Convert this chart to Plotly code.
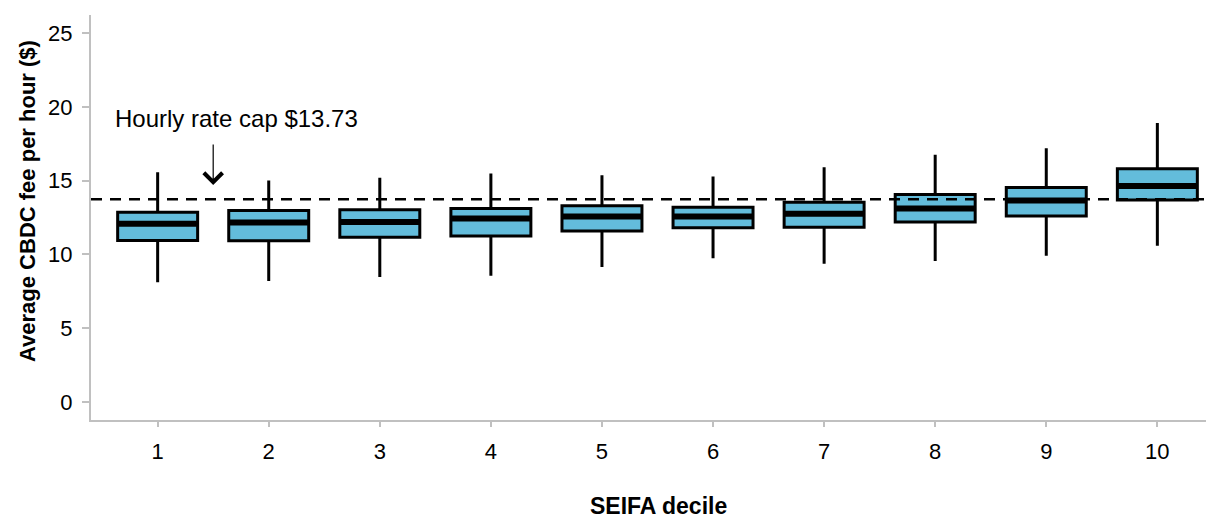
import plotly.graph_objects as go

deciles = [1, 2, 3, 4, 5, 6, 7, 8, 9, 10]
lower_whisker = [8.12, 8.20, 8.47, 8.56, 9.15, 9.74, 9.36, 9.56, 9.90, 10.58]
q1 = [10.94, 10.92, 11.16, 11.25, 11.59, 11.80, 11.84, 12.20, 12.61, 13.69]
median = [12.07, 12.16, 12.20, 12.43, 12.57, 12.57, 12.75, 13.11, 13.65, 14.64]
q3 = [12.86, 12.97, 13.02, 13.11, 13.29, 13.20, 13.54, 14.06, 14.53, 15.80]
upper_whisker = [15.57, 15.00, 15.19, 15.48, 15.37, 15.27, 15.91, 16.75, 17.20, 18.90]
rate_cap = 13.73
cap_label = "Hourly rate cap $13.73"
y_ticks = [0, 5, 10, 15, 20, 25]
x_title = "SEIFA decile"
y_title = "Average CBDC fee per hour ($)"

FONT = "Liberation Sans, Arial, sans-serif"
AXIS_GREY = "#c0c0c0"

# page has an 8px body margin: compensate so the plot lands where the reference has it
OFF = 8
W, H = 1214 - OFF, 517 - OFF
L, T, R = 91 - OFF, 15 - OFF, 0
B = H - (420 - OFF)
pw, ph = W - L - R, H - T - B


def px_to_paper(px, py):
    """page pixel -> paper fraction"""
    fx = (px - OFF - L) / pw
    fy = ((H - B) - (py - OFF)) / ph
    return fx, fy


fig = go.Figure()
fig.add_trace(go.Box(
    x=deciles,
    q1=q1, median=median, q3=q3,
    lowerfence=lower_whisker, upperfence=upper_whisker,
    width=0.72,
    fillcolor="#63bcdb",
    line=dict(color="black", width=3),
    whiskerwidth=0,
    boxpoints=False,
    showlegend=False,
    hoverinfo="skip",
))
# thicker median bars
fig.add_trace(go.Scatter(
    x=deciles, y=median, mode="markers",
    marker=dict(symbol="line-ew", size=56, line=dict(color="black", width=6)),
    showlegend=False, hoverinfo="skip",
))

fig.add_shape(type="line", xref="paper", x0=0, x1=1, yref="y", y0=rate_cap, y1=rate_cap,
              line=dict(color="black", width=2.5, dash="11px,8px"), layer="above")

fig.add_annotation(x=1.71, y=19.2, xref="x", yref="y", text=cap_label, showarrow=False,
                   font=dict(family=FONT, size=24, color="black"))
fig.add_annotation(x=1.5, y=14.7, xref="x", yref="y", text="", showarrow=True,
                   ax=0, ay=-42, arrowhead=4, arrowsize=3, arrowwidth=1.2, arrowcolor="black")

# axis titles
xt = px_to_paper(658, 506)
yt = px_to_paper(27, 201)
fig.add_annotation(x=xt[0], y=xt[1], xref="paper", yref="paper", text=f"<b>{x_title}</b>",
                   xanchor="center", yanchor="middle",
                   showarrow=False, font=dict(family=FONT, size=23, color="black"))
fig.add_annotation(x=yt[0], y=yt[1], xref="paper", yref="paper", text=f"<b>{y_title}</b>",
                   xanchor="center", yanchor="middle", textangle=-90,
                   showarrow=False, font=dict(family=FONT, size=22, color="black"))

fig.update_layout(
    width=W, height=H,
    margin=dict(l=L, r=R, t=T, b=B),
    paper_bgcolor="white", plot_bgcolor="white",
    font=dict(family=FONT, size=22, color="black"),
)

fig.update_xaxes(
    range=[0.4, 10.51], tickvals=deciles, ticktext=[str(d) for d in deciles],
    showgrid=False, zeroline=False, automargin=False,
    showline=True, linecolor=AXIS_GREY, linewidth=2,
    ticks="outside", ticklen=5, tickwidth=2, tickcolor=AXIS_GREY,
    ticklabelstandoff=6,
)
fig.update_yaxes(
    range=[-1.22, 26.22], tickvals=y_ticks,
    showgrid=False, zeroline=False, automargin=False,
    showline=True, linecolor=AXIS_GREY, linewidth=2,
    ticks="outside", ticklen=7, tickwidth=2, tickcolor=AXIS_GREY,
    ticklabelstandoff=5,
)

fig.write_html("out.html")
